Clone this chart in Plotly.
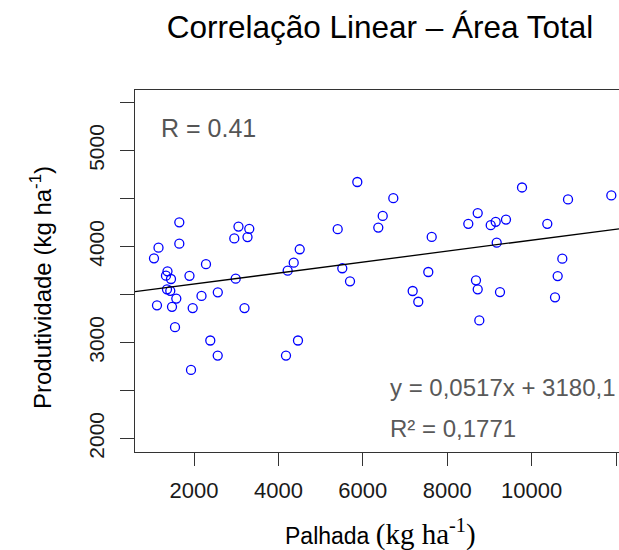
import plotly.graph_objects as go

# ---- data ----
palhada = [5870, 1652, 1159, 1652, 1052, 3054, 3310, 2955, 3268, 5405,
           4505, 4363, 4220, 2284, 1893, 1372, 1336, 1455, 2988, 5514,
           5697, 6723, 6472, 6367, 7633, 8500, 8723, 9031, 9149, 9393,
           9773, 10372, 10863, 11889, 9173, 10728, 10618, 7552, 8682, 1360,
           1438, 1581, 2178, 2564, 1123, 1479, 1969, 3197, 1550, 2386,
           4464, 2562, 4180, 1929, 7182, 7315, 8723, 9251, 10555, 8761]
produtividade = [4673, 4253, 3989, 4030, 3878, 4209, 4185, 4085, 4099, 4181,
                 3972, 3832, 3749, 3817, 3695, 3742, 3697, 3662, 3665, 3774,
                 3638, 4505, 4320, 4198, 4101, 4237, 4349, 4223, 4258, 4282,
                 4616, 4237, 4491, 4533, 4041, 3874, 3693, 3735, 3648, 3555,
                 3539, 3458, 3486, 3523, 3388, 3372, 3359, 3359, 3160, 3021,
                 3021, 2864, 2864, 2714, 3537, 3425, 3554, 3526, 3471, 3230]

x_ticks = [2000, 4000, 6000, 8000, 10000]
x_tick_labels = ["2000", "4000", "6000", "8000", "10000"]
x_minor_step = 2000
y_ticks = [2000, 3000, 4000, 5000]
y_tick_labels = ["2000", "3000", "4000", "5000"]
y_minor_step = 500

line_x = [602, 12071]
line_intercept = 3495
line_slope = 0.0572
line_y = [line_intercept + line_slope * v for v in line_x]

title_text = "Correlação Linear – Área Total"
r_text = "R = 0.41"
eq_text = "y = 0,0517x + 3180,1"
r2_text = "R² = 0,1771"

SANS = "Liberation Sans, Arial, sans-serif"

fig = go.Figure()
fig.add_trace(go.Scatter(
    x=palhada, y=produtividade, mode="markers",
    marker=dict(symbol="circle-open", size=9, color="#0000ff",
                line=dict(width=1.3, color="#0000ff")),
    showlegend=False, cliponaxis=False))
fig.add_trace(go.Scatter(
    x=line_x, y=line_y, mode="lines",
    line=dict(color="black", width=1.3), showlegend=False))

tick_style = dict(ticks="outside", tickwidth=1.2, tickcolor="#333")

fig.update_layout(
    width=619, height=550,
    margin=dict(l=135, r=0, t=90, b=98),
    paper_bgcolor="white", plot_bgcolor="white",
    font=dict(family=SANS, color="black"),
    title=dict(text=title_text, x=380 / 619, xanchor="center",
               y=1 - 27 / 550, yanchor="middle", yref="container",
               font=dict(family=SANS, size=31.5, color="black")),
    xaxis=dict(range=[602, 12071], tickvals=x_ticks, ticktext=x_tick_labels,
               ticklen=13, **tick_style,
               minor=dict(tick0=0, dtick=x_minor_step, ticklen=13, **tick_style),
               showline=True, linecolor="#333", linewidth=1.2, mirror=True,
               showgrid=False, zeroline=False,
               tickfont=dict(family=SANS, size=22, color="#1a1a1a"),
               ticklabelstandoff=5),
    yaxis=dict(range=[1859, 5632], tickvals=y_ticks, ticktext=y_tick_labels,
               ticklen=14, **tick_style,
               minor=dict(tick0=0, dtick=y_minor_step, ticklen=14, **tick_style),
               showline=True, linecolor="#333", linewidth=1.2,
               showgrid=False, zeroline=False, tickangle=-90,
               tickfont=dict(family=SANS, size=21, color="#1a1a1a"),
               ticklabelstandoff=8),
)

fig.add_annotation(
    text="Produtividade (kg ha<sup>-1</sup>)", textangle=-90,
    xref="paper", yref="paper", x=(41 - 135) / 484, y=(451.5 - 288) / 361,
    xanchor="center", yanchor="middle", showarrow=False,
    font=dict(family=SANS, size=24, color="black"))
fig.add_annotation(
    text="Palhada <span style='font-family:Liberation Serif, Times New Roman, serif;font-size:29px'>(kg ha<sup>-1</sup>)</span>",
    xref="paper", yref="paper", x=(380 - 135) / 484, y=(451.5 - 532) / 361,
    xanchor="center", yanchor="middle", showarrow=False,
    font=dict(family=SANS, size=23, color="black"))
fig.add_annotation(
    text=r_text, x=1171, y=5239, xref="x", yref="y",
    xanchor="left", yanchor="middle", showarrow=False,
    font=dict(family=SANS, size=25, color="#555555"))
fig.add_annotation(
    text=eq_text, x=6600, y=2533, xref="x", yref="y",
    xanchor="left", yanchor="middle", showarrow=False,
    font=dict(family=SANS, size=24, color="#595959"))
fig.add_annotation(
    text=r2_text, x=6600, y=2104, xref="x", yref="y",
    xanchor="left", yanchor="middle", showarrow=False,
    font=dict(family=SANS, size=24, color="#595959"))

fig.write_html("out.html",
               config={"displayModeBar": False},
               post_script="document.body.style.margin='0';"
                           "document.body.style.overflow='hidden';")
